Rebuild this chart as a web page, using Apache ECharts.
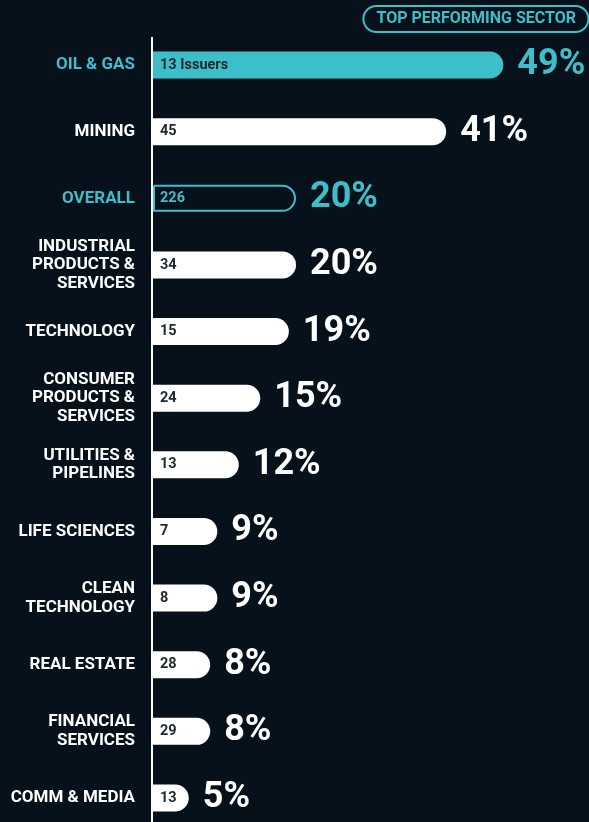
<!DOCTYPE html>
<html><head><meta charset="utf-8">
<script src="https://cdn.jsdelivr.net/npm/echarts@6/dist/echarts.min.js"></script>
<style>html,body{margin:0;padding:0;background:#07111b;}#c{width:589px;height:822px;}</style>
</head><body><div id="c"></div>
<script>
const categories = ['OIL & GAS','MINING','OVERALL','INDUSTRIAL\nPRODUCTS &\nSERVICES','TECHNOLOGY','CONSUMER\nPRODUCTS &\nSERVICES','UTILITIES &\nPIPELINES','LIFE SCIENCES','CLEAN\nTECHNOLOGY','REAL ESTATE','FINANCIAL\nSERVICES','COMM & MEDIA'];
const returns = [49,41,20,20,19,15,12,9,9,8,8,5];
const issuers = ['13 Issuers','45','226','34','15','24','13','7','8','28','29','13'];
const highlight = ['OIL & GAS','OVERALL'];

const TEAL = '#3dbfca', BG = '#07111b', DARK = '#222a30';
const FONT = 'Roboto';

const barData = returns.map((v,i)=>{
  const c = categories[i];
  let style = {color:'#ffffff', borderRadius:[0,14,14,0]};
  let lblColor = DARK;
  if (c==='OIL & GAS') style = {color:TEAL, borderRadius:[0,14,14,0]};
  if (c==='OVERALL') { style = {color:BG, borderColor:TEAL, borderWidth:2, borderRadius:[0,14,14,0]}; lblColor = TEAL; }
  return {value:v, itemStyle:style, label:{color:lblColor}};
});
const pctData = returns.map((v,i)=>({value:v, label:{color: highlight.includes(categories[i]) ? TEAL : '#ffffff'}}));

const chart = echarts.init(document.getElementById('c'));
chart.setOption({
  backgroundColor: BG,
  animation:false,
  title:{text:'TOP PERFORMING SECTOR', right:0, top:6, borderColor:TEAL, borderWidth:2, borderRadius:14, padding:[5,13,5,13],
    textStyle:{color:TEAL, fontSize:16, fontWeight:'bold', fontFamily:FONT}},
  grid:{left:153, top:65, width:429, bottom:24, containLabel:false},
  xAxis:{type:'value', min:0, max:60, show:false},
  yAxis:{type:'category', data:categories, inverse:true, boundaryGap:false,
    axisLine:{show:false},
    axisTick:{show:false},
    axisLabel:{margin:18, fontSize:17, lineHeight:18.5, fontWeight:'bold', fontFamily:FONT, align:'right',
      color:(v)=> highlight.includes(v) ? TEAL : '#ffffff'}},
  graphic:[{type:'line', shape:{x1:152, y1:37, x2:152, y2:822}, style:{stroke:'#ffffff', lineWidth:2}, z:10}],
  series:[
    {type:'bar', data:barData, barWidth:27, z:2,
      label:{show:true, position:'insideLeft', distance:7, formatter:(p)=>issuers[p.dataIndex], fontSize:14.5, fontWeight:'bold', fontFamily:FONT}},
    {type:'bar', data:pctData, barWidth:27, barGap:'-100%', itemStyle:{color:'transparent'}, z:3, silent:true,
      label:{show:true, position:'right', distance:14, formatter:'{c}%', fontSize:36, fontWeight:'bold', fontFamily:FONT}}
  ]
});
</script></body></html>
